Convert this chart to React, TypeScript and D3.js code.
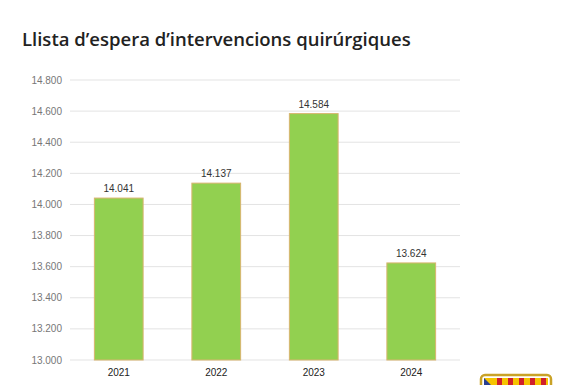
import * as d3 from "d3";

const years = ["2021", "2022", "2023", "2024"];
const waiting = [14041, 14137, 14584, 13624];
const yTicks = [13000, 13200, 13400, 13600, 13800, 14000, 14200, 14400, 14600, 14800];

const fmt = (v: number) => d3.format(",.0f")(v).replace(/,/g, ".");
const fmtTick = (v: number) => (v / 1000).toFixed(3);

export default function App() {
  const width = 566;
  const height = 385;
  const left = 70;
  const right = 460;
  const top = 80;
  const bottom = 360;

  const x = d3.scaleBand().domain(years).range([left, right]).paddingInner(0.5).paddingOuter(0.25);
  const y = d3.scaleLinear().domain([13000, 14800]).range([bottom, top]);

  return (
    <svg
      width={width}
      height={height}
      style={{ position: "absolute", left: 0, top: 0, background: "#fff" }}
    >
      <text
        x={22}
        y={46}
        fontFamily="'Open Sans', sans-serif"
        fontWeight={600}
        fontSize={18.5}
        fill="#222"
      >
        Llista d’espera d’intervencions quirúrgiques
      </text>
      {yTicks.map((t) => (
        <g key={t}>
          <line x1={left} x2={right} y1={y(t)} y2={y(t)} stroke="#e3e3e3" strokeWidth={1} />
          <text
            x={62}
            y={y(t)}
            dy="0.35em"
            textAnchor="end"
            fontFamily="Arial, 'Liberation Sans', sans-serif"
            fontSize={10}
            fill="#777"
          >
            {fmtTick(t)}
          </text>
        </g>
      ))}
      {years.map((yr, i) => (
        <g key={yr}>
          <rect
            x={x(yr)!}
            y={y(waiting[i])}
            width={x.bandwidth()}
            height={bottom - y(waiting[i])}
            fill="#92d050"
            stroke="#d8b46e"
            strokeWidth={1}
          />
          <text
            x={x(yr)! + x.bandwidth() / 2}
            y={y(waiting[i]) - 6}
            textAnchor="middle"
            fontFamily="Arial, 'Liberation Sans', sans-serif"
            fontSize={10}
            fill="#333"
          >
            {fmt(waiting[i])}
          </text>
          <text
            x={x(yr)! + x.bandwidth() / 2}
            y={bottom + 16}
            textAnchor="middle"
            fontFamily="Arial, 'Liberation Sans', sans-serif"
            fontSize={10}
            fill="#222"
          >
            {yr}
          </text>
        </g>
      ))}
      <g>
        <rect x={481} y={375} width={70} height={20} rx={4} fill="#fff" stroke="#c9a227" strokeWidth={2.5} />
        <clipPath id="logo">
          <rect x={484} y={378} width={64} height={14} />
        </clipPath>
        <g clipPath="url(#logo)">
          <rect x={484} y={378} width={64} height={14} fill="#f6c400" />
          {d3.range(5).map((k) => (
            <rect key={k} x={497 + k * 11} y={378} width={5} height={14} fill="#d0202a" />
          ))}
          <path d="M484,378 L496,390 L484,392 Z" fill="#2a3f8f" />
        </g>
      </g>
    </svg>
  );
}
